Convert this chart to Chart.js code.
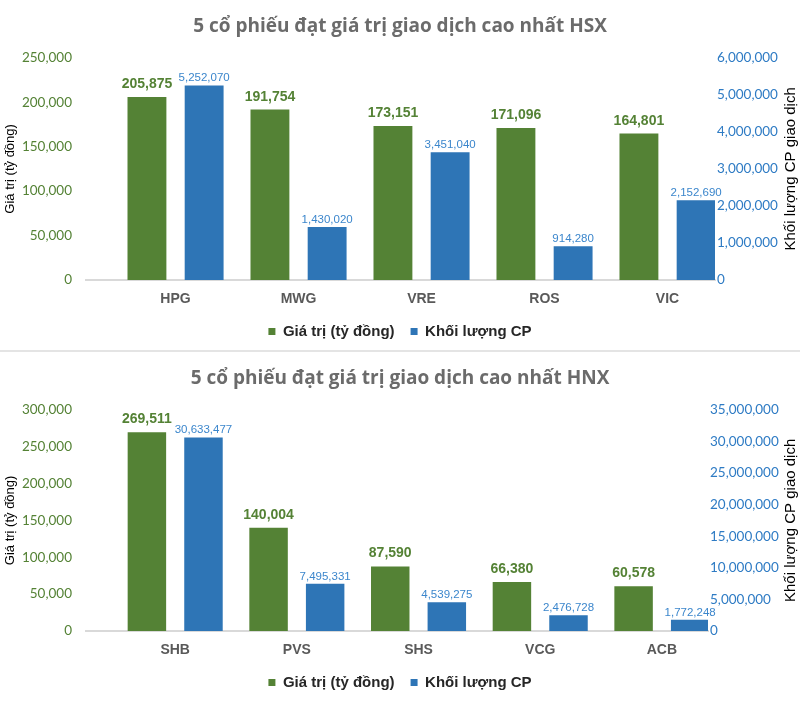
<!DOCTYPE html>
<html>
<head>
<meta charset="utf-8">
<script src="https://cdn.jsdelivr.net/npm/chart.js@4.4.1/dist/chart.umd.min.js"></script>
<style>
	html, body { margin: 0; padding: 0; background: #fff; }
	.panel { width: 800px; }
	.divider { width: 800px; height: 2px; background: #e4e4e4; }
</style>
</head>
<body>
<div class="panel"><canvas id="hsx-chart" width="800" height="350"></canvas></div>
<div class="divider"></div>
<div class="panel"><canvas id="hnx-chart" width="800" height="351"></canvas></div>
<script>
// series names shared by both charts
const seriesNames = ['Giá trị (tỷ đồng)', 'Khối lượng CP'];
const leftAxisTitle = 'Giá trị (tỷ đồng)';
const rightAxisTitle = 'Khối lượng CP giao dịch';

// HSX
const hsxTitle = '5 cổ phiếu đạt giá trị giao dịch cao nhất HSX';
const hsxStocks = ['HPG', 'MWG', 'VRE', 'ROS', 'VIC'];
const hsxValue = [205875, 191754, 173151, 171096, 164801];
const hsxVolume = [5252070, 1430020, 3451040, 914280, 2152690];
const hsxValueTicks = [0, 50000, 100000, 150000, 200000, 250000];
const hsxVolumeTicks = [0, 1000000, 2000000, 3000000, 4000000, 5000000, 6000000];

// HNX
const hnxTitle = '5 cổ phiếu đạt giá trị giao dịch cao nhất HNX';
const hnxStocks = ['SHB', 'PVS', 'SHS', 'VCG', 'ACB'];
const hnxValue = [269511, 140004, 87590, 66380, 60578];
const hnxVolume = [30633477, 7495331, 4539275, 2476728, 1772248];
const hnxValueTicks = [0, 50000, 100000, 150000, 200000, 250000, 300000];
const hnxVolumeTicks = [0, 5000000, 10000000, 15000000, 20000000, 25000000, 30000000, 35000000];

const GREEN = '#548235';
const BLUE = '#2E75B6';
const NARROW = "'Liberation Sans Narrow', 'Arial Narrow', 'Liberation Sans', sans-serif";
const SANS = "'Liberation Sans', Arial, sans-serif";

const fmt = (v) => Number(v).toLocaleString('en-US');

// value labels above each bar
const barLabels = {
	id: 'barLabels',
	afterDatasetsDraw(chart, args, opts) {
		const ctx = chart.ctx;
		chart.data.datasets.forEach((ds, di) => {
			const style = opts.styles[di];
			const meta = chart.getDatasetMeta(di);
			ctx.save();
			ctx.font = style.font;
			ctx.fillStyle = style.color;
			ctx.textAlign = 'center';
			ctx.textBaseline = 'alphabetic';
			meta.data.forEach((bar, i) => {
				ctx.fillText(fmt(ds.data[i].y), bar.x, bar.y - style.gap);
			});
			ctx.restore();
		});
	},
};

// right axis title reads bottom-to-top like the left one
const rightTitle = {
	id: 'rightTitle',
	afterDraw(chart, args, opts) {
		const s = chart.scales.y1;
		const ctx = chart.ctx;
		ctx.save();
		ctx.translate(s.right - opts.offset, (s.top + s.bottom) / 2);
		ctx.rotate(-Math.PI / 2);
		ctx.font = opts.font;
		ctx.fillStyle = '#000';
		ctx.textAlign = 'center';
		ctx.textBaseline = 'middle';
		ctx.fillText(opts.text, 0, 0);
		ctx.restore();
	},
};

function buildChart(id, p) {
	const ctx = document.getElementById(id);
	return new Chart(ctx, {
		type: 'bar',
		data: {
			datasets: [
				{
					label: seriesNames[0],
					data: p.values.map((v, i) => ({ x: i, y: v })),
					backgroundColor: GREEN,
					yAxisID: 'y',
				},
				{
					label: seriesNames[1],
					data: p.volumes.map((v, i) => ({ x: i, y: v })),
					backgroundColor: BLUE,
					yAxisID: 'y1',
				},
			],
		},
		options: {
			responsive: false,
			animation: false,
			categoryPercentage: 0.93,
			barPercentage: 0.68,
			layout: { padding: { top: 0, left: 0, right: 0, bottom: p.padBottom } },
			scales: {
				x: {
					type: 'linear',
					min: p.xMin,
					max: p.xMax,
					offset: false,
					grid: { display: false, drawTicks: false },
					border: { display: true, color: '#d9d9d9', width: 2 },
					afterBuildTicks: (s) => {
						s.ticks = p.stocks.map((_, i) => ({ value: i }));
					},
					afterFit: (s) => {
						s.height = 28;
					},
					ticks: {
						callback: (v) => p.stocks[v],
						color: '#595959',
						font: { family: NARROW, size: 14, weight: 'bold' },
						padding: 11,
						autoSkip: false,
						maxRotation: 0,
					},
				},
				y: {
					position: 'left',
					min: p.valueTicks[0],
					max: p.valueTicks[p.valueTicks.length - 1],
					afterBuildTicks: (s) => {
						s.ticks = p.valueTicks.map((v) => ({ value: v }));
					},
					afterFit: (s) => {
						s.width = 86;
					},
					grid: { display: false, drawTicks: false },
					border: { display: false },
					ticks: {
						color: GREEN,
						font: { family: 'Lato', size: 13.5 },
						padding: 14,
						callback: fmt,
					},
					title: {
						display: true,
						text: leftAxisTitle,
						color: '#000',
						font: { family: SANS, size: 13 },
						padding: { top: 3, bottom: 0 },
					},
				},
				y1: {
					position: 'right',
					min: p.volumeTicks[0],
					max: p.volumeTicks[p.volumeTicks.length - 1],
					afterBuildTicks: (s) => {
						s.ticks = p.volumeTicks.map((v) => ({ value: v }));
					},
					afterFit: (s) => {
						s.width = p.rightWidth;
					},
					grid: { display: false, drawTicks: false },
					border: { display: false },
					ticks: {
						color: '#2E7BC4',
						font: { family: 'Lato', size: 13.5 },
						padding: 2,
						callback: fmt,
					},
				},
			},
			plugins: {
				title: {
					display: true,
					text: p.title,
					color: '#6b6b6b',
					font: { family: "'Open Sans'", size: 19, weight: 'bold' },
					padding: { top: 15, bottom: 20 },
				},
				legend: {
					position: 'bottom',
					labels: {
						boxWidth: 7,
						boxHeight: 7,
						padding: 16,
						color: '#262626',
						font: { family: SANS, size: 15, weight: 'bold' },
					},
				},
				tooltip: { enabled: false },
				barLabels: {
					styles: [
						{ font: 'bold 14px ' + NARROW, color: GREEN, gap: 9 },
						{ font: '11.5px ' + NARROW, color: '#3B86CC', gap: 4 },
					],
				},
				rightTitle: { text: rightAxisTitle, font: '15px ' + SANS, offset: 9 },
			},
		},
		plugins: [barLabels, rightTitle],
	});
}

buildChart('hsx-chart', {
	title: hsxTitle,
	stocks: hsxStocks,
	values: hsxValue,
	volumes: hsxVolume,
	valueTicks: hsxValueTicks,
	volumeTicks: hsxVolumeTicks,
	xMin: -0.728,
	xMax: 4.386,
	rightWidth: 85,
	padBottom: 1,
});

buildChart('hnx-chart', {
	title: hnxTitle,
	stocks: hnxStocks,
	values: hnxValue,
	volumes: hnxVolume,
	valueTicks: hnxValueTicks,
	volumeTicks: hnxVolumeTicks,
	xMin: -0.733,
	xMax: 4.379,
	rightWidth: 92,
	padBottom: 3,
});
</script>
</body>
</html>
